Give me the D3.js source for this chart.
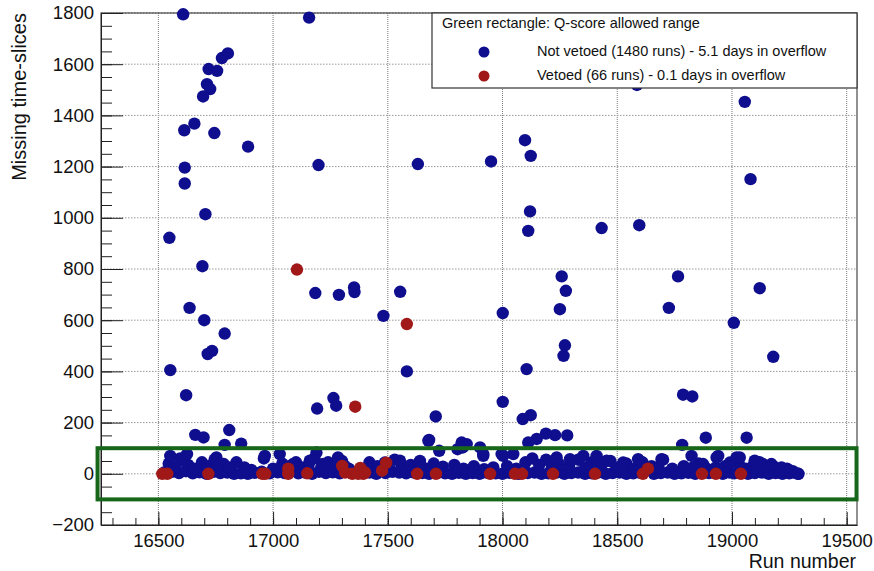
<!DOCTYPE html>
<html>
<head>
<meta charset="utf-8">
<script src="https://cdn.jsdelivr.net/npm/d3@7"></script>
<style>
  body { margin: 0; background: #fff; }
  text { font-family: "Liberation Sans", Arial, sans-serif; fill: #111; }
</style>
</head>
<body>
<div id="my_dataviz"></div>
<script>
// tick labels
const xTicks = [16500, 17000, 17500, 18000, 18500, 19000, 19500];
const yTicks = [-200, 0, 200, 400, 600, 800, 1000, 1200, 1400, 1600, 1800];

// Q-score allowed range (green rectangle)
const qRuns = [16235, 19543];
const qSlices = [-100, 100];

// not vetoed runs: [run number, missing time-slices]
const notVetoedHigh = [
    [16608, 1795], [17157, 1782], [16803, 1642], [16777, 1624], [16719, 1581], [16756, 1574],
    [16712, 1522], [16726, 1503], [16695, 1474], [16657, 1368], [16613, 1342], [16744, 1331],
    [16891, 1278], [16615, 1196], [17198, 1206], [17631, 1210], [17950, 1220], [16615, 1134],
    [16705, 1014], [16548, 922], [16692, 811], [17184, 706], [17287, 699], [17353, 728],
    [17355, 710], [17554, 711], [16636, 648], [16700, 600], [17481, 617], [16789, 548],
    [16734, 480], [16715, 468], [16552, 405], [17583, 400], [16621, 307], [17263, 296],
    [17275, 266], [17192, 255], [17709, 224], [16661, 152], [16697, 142], [16809, 171],
    [16789, 113], [16861, 118], [17677, 129], [17822, 122], [17844, 116], [19056, 1453],
    [18098, 1303], [18123, 1242], [19081, 1151], [18120, 1025], [18112, 949], [18432, 960],
    [18596, 971], [18258, 771], [18276, 715], [18765, 771], [19121, 725], [18586, 1519],
    [18001, 628], [18250, 643], [18725, 648], [19008, 590], [18272, 502], [18266, 461],
    [19180, 457], [18105, 409], [18787, 309], [18827, 302], [18001, 281], [18123, 229],
    [18088, 214], [18189, 157], [18229, 151], [18282, 150], [18149, 136], [18112, 122],
    [18886, 141], [19064, 141], [18783, 113], [17680, 132]
];
const notVetoedBand = [
    [16525, 5], [16560, 8], [16590, 3], [16620, 10], [16650, 2], [16680, 6], [16710, 0], [16740, 8],
    [16770, 3], [16800, 5], [16830, 0], [16860, 2], [16890, 0], [16920, 4], [16950, 8], [16985, 2],
    [17020, 6], [17050, 3], [17080, 10], [17110, 2], [17140, 5], [17170, 0], [17200, 8], [17230, 3],
    [17260, 6], [17290, 2], [17330, 10], [17420, 5], [17450, 0], [17490, 3], [17520, 8], [17550, 5],
    [17580, 2], [17610, 6], [17650, 3], [17680, 0], [17720, 5], [17750, 2], [17780, 0], [17810, 4],
    [17840, 0], [17870, 3], [17900, 0], [17930, 5], [17970, 2], [18000, 0], [18030, 4], [18070, 0],
    [18110, 3], [18140, 5], [18170, 0], [18200, 2], [18240, 6], [18270, 0], [18300, 3], [18330, 5],
    [18360, 0], [18390, 2], [18420, 6], [18450, 0], [18480, 3], [18510, 5], [18540, 0], [18570, 2],
    [18600, 4], [18660, 0], [18690, 3], [18720, 5], [18750, 0], [18780, 2], [18810, 4], [18840, 0],
    [18900, 3], [18960, 0], [18990, 5], [19010, 2], [19070, 0], [19100, 3], [19130, 5], [19160, 0],
    [19190, 3], [19220, 0], [19250, 2], [19270, 5], [19290, 0],
    [16545, 40], [16570, 25], [16595, 60], [16630, 35], [16655, 20], [16690, 45], [16720, 30],
    [16745, 55], [16785, 38], [16810, 20], [16840, 45], [16875, 25], [16905, 15], [16960, 60],
    [17000, 20], [17040, 40], [17070, 30], [17100, 45], [17125, 25], [17155, 35], [17180, 60],
    [17210, 25], [17240, 45], [17270, 30], [17300, 50], [17330, 20], [17420, 45], [17455, 30],
    [17500, 38], [17530, 55], [17560, 25], [17600, 35], [17640, 50], [17670, 20], [17700, 40],
    [17740, 28], [17790, 35], [17830, 20], [17875, 30], [17920, 18], [17960, 25], [18020, 30],
    [18060, 20], [18100, 45], [18130, 60], [18160, 35], [18190, 55], [18215, 25], [18245, 40],
    [18290, 30], [18330, 55], [18360, 25], [18390, 45], [18430, 30], [18470, 50], [18500, 25],
    [18540, 40], [18575, 20], [18610, 45], [18650, 30], [18680, 25], [18700, 55], [18740, 20],
    [18790, 30], [18830, 25], [18855, 40], [18890, 20], [18930, 25], [18970, 30], [19030, 40],
    [19060, 20], [19095, 35], [19120, 45], [19150, 25], [19180, 30], [19210, 15], [19240, 20],
    [19265, 10],
    [16552, 70], [16596, 51], [16625, 77], [16753, 64], [16768, 38], [16808, 25], [16964, 70],
    [17029, 77], [17087, 38], [17160, 51], [17189, 83], [17218, 38], [17283, 64], [17312, 31],
    [17487, 44], [17553, 51], [17640, 38], [17724, 90], [17804, 96], [17916, 70], [18003, 70],
    [18236, 64], [18294, 57], [18352, 70], [18410, 70], [18454, 51], [18526, 44], [18591, 57],
    [18693, 57], [18824, 70], [18874, 38], [18933, 64], [18991, 44], [19020, 64], [19099, 51],
    [19135, 38], [19172, 38], [19216, 25], [19252, 12], [19288, 0], [17827, 103], [17902, 103],
    [17916, 77], [17996, 77], [18047, 77], [18940, 70], [19034, 64]
];

// vetoed runs: [run number, missing time-slices]
const vetoed = [
    [17104, 798], [17583, 585], [17358, 262],
    [16517, 0], [16539, 0], [16718, 0], [16953, 0], [16966, 0], [17066, 0], [17066, 20],
    [17149, 2], [17301, 31], [17314, 5], [17345, 0], [17371, 0], [17380, 23], [17393, 0],
    [17401, 5], [17475, 12], [17493, 43], [17628, 0], [17710, 0], [17946, 0], [18054, 0],
    [18085, 0], [18220, 0], [18403, 0], [18612, 0], [18634, 20], [18869, 0], [18930, 0], [19039, 0]
];

const legendLabels = [
    "Not vetoed (1480 runs) - 5.1 days in overflow",
    "Vetoed (66 runs) - 0.1 days in overflow"
];

const blue = "#0e0e8e", red = "#a01818", green = "#17671a";

// set the dimensions and margins of the graph
const margin = { top: 13, right: 17, bottom: 46, left: 101 },
    width = 874 - margin.left - margin.right,
    height = 571 - margin.top - margin.bottom;

const svg = d3.select("#my_dataviz")
    .append("svg")
    .attr("width", width + margin.left + margin.right)
    .attr("height", height + margin.top + margin.bottom)
    .append("g")
    .attr("transform", `translate(${margin.left}, ${margin.top})`);

const x = d3.scaleLinear().domain([16250, 19545]).range([0, width]);
const y = d3.scaleLinear().domain([-200, 1800]).range([height, 0]);

// grid
svg.append("g")
    .selectAll("line")
    .data(xTicks)
    .join("line")
    .attr("x1", d => x(d)).attr("x2", d => x(d))
    .attr("y1", 0).attr("y2", height)
    .attr("stroke", "#7a7a7a")
    .attr("stroke-dasharray", "1,1");
svg.append("g")
    .selectAll("line")
    .data(yTicks)
    .join("line")
    .attr("x1", 0).attr("x2", width)
    .attr("y1", d => y(d)).attr("y2", d => y(d))
    .attr("stroke", "#9a9a9a")
    .attr("stroke-dasharray", "1.5,1.5");

// X axis (ticks pointing inward, ROOT style)
const xAxis = svg.append("g")
    .attr("transform", `translate(0, ${height})`)
    .call(d3.axisBottom(x).tickValues(xTicks).tickSize(-13).tickSizeOuter(0).tickPadding(9).tickFormat(d3.format("d")));
xAxis.selectAll("text").style("font-size", "18.5px");
svg.append("g")
    .attr("transform", `translate(0, ${height})`)
    .call(d3.axisBottom(x).tickValues(d3.range(16300, 19501, 100)).tickSize(-7).tickSizeOuter(0).tickFormat(""))
    .select(".domain").remove();

// Y axis
const yAxis = svg.append("g")
    .call(d3.axisLeft(y).tickValues(yTicks).tickSize(-22).tickSizeOuter(0).tickPadding(7).tickFormat(d3.format("d")));
yAxis.selectAll("text").style("font-size", "18.5px");
svg.append("g")
    .call(d3.axisLeft(y).tickValues(d3.range(-150, 1800, 50)).tickSize(-11).tickSizeOuter(0).tickFormat(""))
    .select(".domain").remove();

svg.selectAll(".tick line").attr("stroke", "#222");
svg.selectAll(".domain").attr("stroke", "#222");

// frame
svg.append("rect")
    .attr("x", 0).attr("y", 0)
    .attr("width", width).attr("height", height)
    .attr("fill", "none")
    .attr("stroke", "#222");

// axis titles
svg.append("text")
    .attr("text-anchor", "end")
    .attr("x", width - 1)
    .attr("y", height + 43)
    .style("font-size", "19.5px")
    .text("Run number");
svg.append("text")
    .attr("text-anchor", "end")
    .attr("transform", `translate(${-75}, 0) rotate(-90)`)
    .style("font-size", "20px")
    .text("Missing time-slices");

// points
svg.append("g")
    .selectAll("circle")
    .data(notVetoedBand.concat(notVetoedHigh))
    .join("circle")
    .attr("cx", d => x(d[0]))
    .attr("cy", d => y(d[1]))
    .attr("r", 6.2)
    .attr("fill", blue);
svg.append("g")
    .selectAll("circle")
    .data(vetoed)
    .join("circle")
    .attr("cx", d => x(d[0]))
    .attr("cy", d => y(d[1]))
    .attr("r", 6.2)
    .attr("fill", red);

// green rectangle
svg.append("rect")
    .attr("x", x(qRuns[0]))
    .attr("y", y(qSlices[1]))
    .attr("width", x(qRuns[1]) - x(qRuns[0]))
    .attr("height", y(qSlices[0]) - y(qSlices[1]))
    .attr("fill", "none")
    .attr("stroke", green)
    .attr("stroke-width", 4);

// legend
const legend = svg.append("g").attr("transform", `translate(${432 - margin.left}, 0)`);
legend.append("rect")
    .attr("width", width - (432 - margin.left))
    .attr("height", 75)
    .attr("fill", "#fff")
    .attr("stroke", "#333")
    .attr("stroke-width", 1.2);
legend.append("text")
    .attr("x", 10).attr("y", 15)
    .style("font-size", "14.5px")
    .text("Green rectangle: Q-score allowed range");
legend.selectAll("circle.lg")
    .data([blue, red])
    .join("circle")
    .attr("class", "lg")
    .attr("cx", 52)
    .attr("cy", (d, i) => 39 + i * 24)
    .attr("r", 5.5)
    .attr("fill", d => d);
legend.selectAll("text.lg")
    .data(legendLabels)
    .join("text")
    .attr("class", "lg")
    .attr("x", 105)
    .attr("y", (d, i) => 43 + i * 24)
    .style("font-size", "14.5px")
    .text(d => d);
</script>
</body>
</html>
